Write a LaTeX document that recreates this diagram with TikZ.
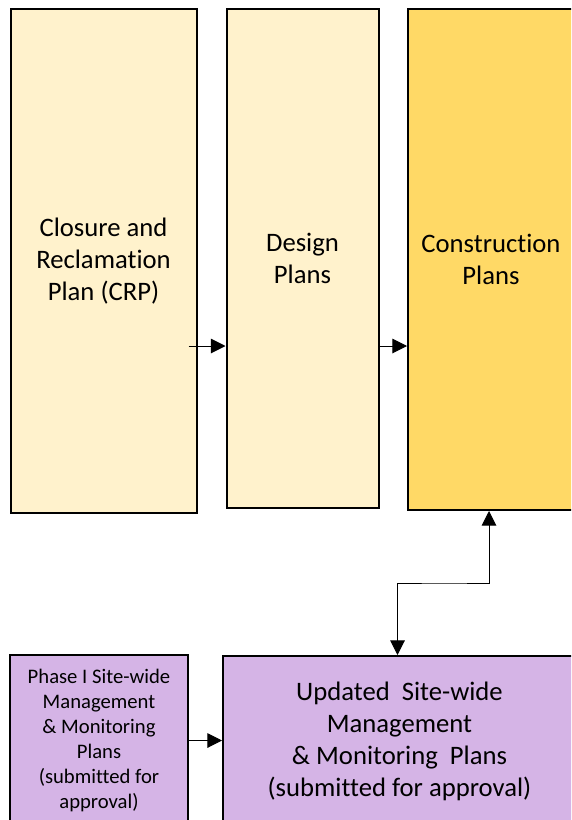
\documentclass[tikz,border=0pt]{standalone}
\usepackage{fontspec}
\setmainfont{Carlito}[RawFeature={-liga;-clig;-calt;-dlig}]
\usepackage{tikz}
\usetikzlibrary{arrows.meta,calc}
\definecolor{paleyellow}{RGB}{255,242,204}
\definecolor{gold}{RGB}{255,217,102}
\definecolor{lavender}{RGB}{213,180,230}

\begin{document}
\begin{tikzpicture}[x=0.75pt,y=-0.75pt,
  plan/.style={draw=black,line width=1.5pt,align=center,inner sep=0pt,
    font=\fontsize{20}{24}\selectfont},
  link/.style={line width=0.75pt,-{Triangle[length=11pt,width=11pt]}}]
\useasboundingbox (0,0) rectangle (571,820);
\clip (0,0) rectangle (571,820);
% top row
\node[plan,fill=paleyellow,minimum width=139.5pt,minimum height=378pt] (crp) at (103.5,261)
  {Closure and\\Reclamation\\Plan (CRP)};
\node[plan,fill=paleyellow,minimum width=114pt,minimum height=374.25pt] (design) at (302.5,258.5)
  {Design\\Plans};
\node[plan,fill=gold,minimum width=124.5pt,minimum height=375.75pt] (constr) at (491,259.5)
  {Construction\\Plans};
% bottom row
\node[plan,fill=lavender,minimum width=133.5pt,minimum height=128.25pt,
  font=\fontsize{15.5}{18.75}\selectfont] (phase) at (99,740.5)
  {Phase I Site-wide\\Management\\\& Monitoring\\Plans\\(submitted for\\approval)};
\node[plan,fill=lavender,minimum width=264.75pt,minimum height=127.5pt] (updated) at (399.5,741)
  {Updated\ \ Site-wide\\Management\\\& Monitoring\ \ Plans\\(submitted for approval)};
% connectors
\coordinate (flow) at (0,346);
\draw[link,shorten <=-6.75pt] (crp.east |- flow) -- (design.west |- flow);
\draw[link] (design.east |- flow) -- (constr.west |- flow);
\draw[link,{Triangle[length=11pt,width=11pt]}-{Triangle[length=11pt,width=11pt]}]
  ([xshift=-1.5pt]constr.south) |- ($(constr.south)!.5!(updated.north)$) -| ([xshift=-1.5pt]updated.north);
\draw[link] (phase.east) -- (phase.east -| updated.west);
\end{tikzpicture}
\end{document}
